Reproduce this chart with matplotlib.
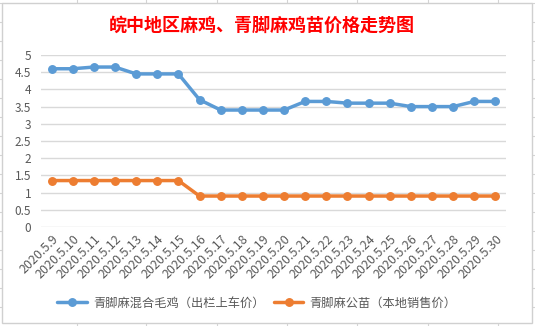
import matplotlib
matplotlib.use("Agg")
import matplotlib.pyplot as plt
from matplotlib.lines import Line2D
from matplotlib.patches import Rectangle

plt.rcParams['font.family'] = ['Noto Sans CJK SC', 'DejaVu Sans']

# data
dates = ["2020.5.9", "2020.5.10", "2020.5.11", "2020.5.12", "2020.5.13", "2020.5.14",
         "2020.5.15", "2020.5.16", "2020.5.17", "2020.5.18", "2020.5.19", "2020.5.20",
         "2020.5.21", "2020.5.22", "2020.5.23", "2020.5.24", "2020.5.25", "2020.5.26",
         "2020.5.27", "2020.5.28", "2020.5.29", "2020.5.30"]
mixed_price = [4.6, 4.6, 4.65, 4.65, 4.45, 4.45, 4.45, 3.7, 3.4, 3.4, 3.4, 3.4,
               3.65, 3.65, 3.6, 3.6, 3.6, 3.5, 3.5, 3.5, 3.65, 3.65]
cock_price = [1.35, 1.35, 1.35, 1.35, 1.35, 1.35, 1.35, 0.9, 0.9, 0.9, 0.9, 0.9,
              0.9, 0.9, 0.9, 0.9, 0.9, 0.9, 0.9, 0.9, 0.9, 0.9]
series_names = ["青脚麻混合毛鸡（出栏上车价）", "青脚麻公苗（本地销售价）"]
yticks = [0, 0.5, 1, 1.5, 2, 2.5, 3, 3.5, 4, 4.5, 5]

W, H = 535, 326
fig = plt.figure(figsize=(W / 100, H / 100), dpi=100)
fig.patch.set_facecolor('white')

# spreadsheet grid peeking around the chart
sheet = '#D4D4D4'
for x in [77, 146, 217, 287, 357, 428, 498]:
    fig.add_artist(Line2D([x / W, x / W], [0, 3 / H], color=sheet, lw=0.8, zorder=-2))
    fig.add_artist(Line2D([x / W, x / W], [1 - 3 / H, 1], color=sheet, lw=0.8, zorder=-2))
for y in range(3, 326, 19):
    fig.add_artist(Line2D([0, 2 / W], [1 - y / H, 1 - y / H], color=sheet, lw=0.8, zorder=-2))
    fig.add_artist(Line2D([532 / W, 1], [1 - y / H, 1 - y / H], color=sheet, lw=0.8, zorder=-2))
fig.add_artist(Rectangle((2 / W, 3 / H), 530 / W, 320 / H, transform=fig.transFigure,
                         facecolor='white', edgecolor='#D0D0D0', lw=1.0, zorder=-1))

ax = fig.add_axes([41 / W, 1 - 227 / H, 465 / W, 172 / H])
ax.set_facecolor('none')
x = list(range(len(dates)))
ax.plot(x, mixed_price, color='#5B9BD5', lw=2.5, marker='o', ms=5.4, clip_on=False,
        solid_capstyle='round', label=series_names[0])
ax.plot(x, cock_price, color='#ED7D31', lw=2.5, marker='o', ms=5.4, clip_on=False,
        solid_capstyle='round', label=series_names[1])

ax.set_xlim(-0.5, len(dates) - 0.5)
ax.set_ylim(0, 5)
ax.set_yticks(yticks)
ax.set_yticklabels([f"{v:g}" for v in yticks])
ax.set_xticks(x)
ax.set_xticklabels(dates, rotation=45, ha='right', va='top', rotation_mode='anchor')
ax.tick_params(axis='both', length=0, colors='#595959')
ax.tick_params(axis='y', pad=7, labelsize=8.5)
ax.tick_params(axis='x', pad=4, labelsize=9)
ax.grid(axis='y', color='#D9D9D9', lw=1.0)
ax.set_axisbelow(True)
for s in ax.spines.values():
    s.set_visible(False)

fig.text(262 / W, 1 - 25 / H, "皖中地区麻鸡、青脚麻鸡苗价格走势图", ha='center', va='center',
         color='#FF0000', fontsize=13, fontweight='bold')

fig.legend(loc='center', bbox_to_anchor=(257 / W, 1 - 303 / H), ncol=2, frameon=False,
           fontsize=8.8, handlelength=2.4, columnspacing=0.8, handletextpad=0.5,
           labelcolor='#595959')

fig.savefig("out.png", dpi=100, facecolor='white')
